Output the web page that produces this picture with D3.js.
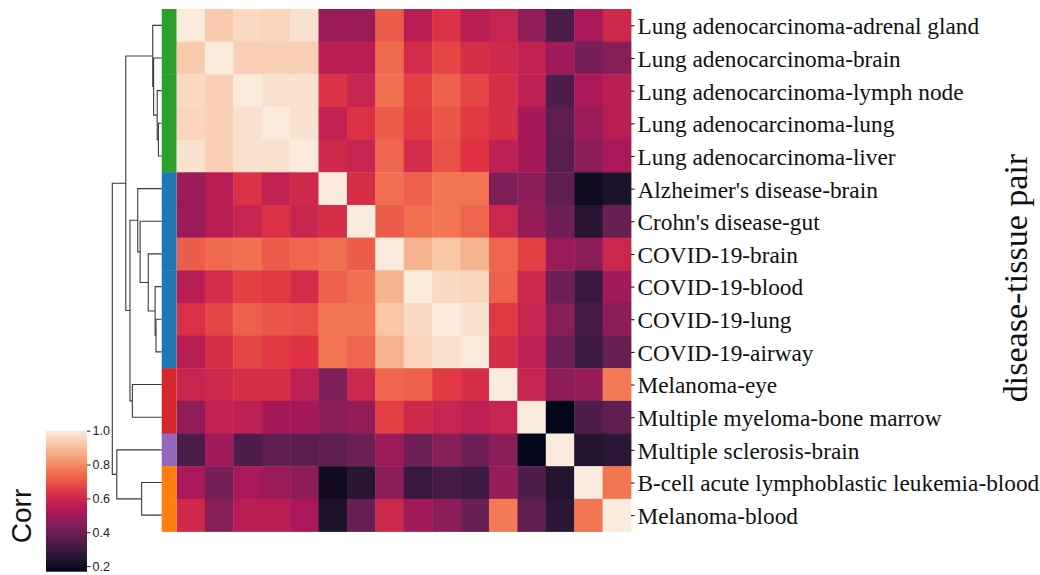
<!DOCTYPE html>
<html>
<head>
<meta charset="utf-8">
<script src="https://cdn.jsdelivr.net/npm/d3@7"></script>
<style>
  html, body { margin: 0; padding: 0; background: #fff; }
  svg { display: block; }
</style>
</head>
<body>
<script>
// Row / column order of the clustered correlation matrix
const rowLabels = [
  "Lung adenocarcinoma-adrenal gland",
  "Lung adenocarcinoma-brain",
  "Lung adenocarcinoma-lymph node",
  "Lung adenocarcinoma-lung",
  "Lung adenocarcinoma-liver",
  "Alzheimer's disease-brain",
  "Crohn's disease-gut",
  "COVID-19-brain",
  "COVID-19-blood",
  "COVID-19-lung",
  "COVID-19-airway",
  "Melanoma-eye",
  "Multiple myeloma-bone marrow",
  "Multiple sclerosis-brain",
  "B-cell acute lymphoblastic leukemia-blood",
  "Melanoma-blood"
];

// Cluster membership colour for each row
const rowClusterColors = [
  "#2ca02c", "#2ca02c", "#2ca02c", "#2ca02c", "#2ca02c",
  "#1f77b4", "#1f77b4", "#1f77b4", "#1f77b4", "#1f77b4", "#1f77b4",
  "#d62728", "#d62728",
  "#9467bd",
  "#ff7f0e", "#ff7f0e"
];

// Pairwise correlation between disease-tissue pairs
const corr = [
  [1.00, 0.93, 0.96, 0.95, 0.98, 0.49, 0.49, 0.71, 0.55, 0.63, 0.55, 0.58, 0.47, 0.33, 0.52, 0.60],
  [0.93, 1.00, 0.94, 0.94, 0.94, 0.55, 0.55, 0.74, 0.61, 0.67, 0.62, 0.60, 0.57, 0.50, 0.42, 0.45],
  [0.96, 0.94, 1.00, 0.98, 0.98, 0.63, 0.58, 0.75, 0.66, 0.72, 0.67, 0.62, 0.56, 0.34, 0.52, 0.55],
  [0.95, 0.94, 0.98, 1.00, 0.98, 0.57, 0.63, 0.71, 0.65, 0.70, 0.65, 0.62, 0.51, 0.37, 0.49, 0.55],
  [0.98, 0.94, 0.98, 0.98, 1.00, 0.60, 0.58, 0.73, 0.61, 0.69, 0.64, 0.56, 0.51, 0.36, 0.46, 0.52],
  [0.49, 0.55, 0.63, 0.57, 0.60, 1.00, 0.62, 0.75, 0.72, 0.76, 0.76, 0.43, 0.46, 0.37, 0.19, 0.22],
  [0.49, 0.55, 0.58, 0.63, 0.58, 0.62, 1.00, 0.71, 0.75, 0.76, 0.73, 0.59, 0.48, 0.40, 0.25, 0.39],
  [0.71, 0.74, 0.75, 0.71, 0.73, 0.75, 0.71, 1.00, 0.88, 0.92, 0.88, 0.73, 0.66, 0.49, 0.46, 0.59],
  [0.55, 0.61, 0.66, 0.65, 0.61, 0.72, 0.75, 0.88, 1.00, 0.96, 0.95, 0.72, 0.60, 0.40, 0.29, 0.50],
  [0.63, 0.67, 0.72, 0.70, 0.69, 0.76, 0.76, 0.92, 0.96, 1.00, 0.98, 0.65, 0.58, 0.45, 0.32, 0.46],
  [0.55, 0.62, 0.67, 0.65, 0.64, 0.76, 0.73, 0.88, 0.95, 0.98, 1.00, 0.62, 0.56, 0.40, 0.30, 0.39],
  [0.58, 0.60, 0.62, 0.62, 0.56, 0.43, 0.59, 0.73, 0.72, 0.65, 0.62, 1.00, 0.58, 0.46, 0.48, 0.77],
  [0.47, 0.57, 0.56, 0.51, 0.51, 0.46, 0.48, 0.66, 0.60, 0.58, 0.56, 0.58, 1.00, 0.167, 0.34, 0.37],
  [0.33, 0.50, 0.34, 0.37, 0.36, 0.37, 0.40, 0.49, 0.40, 0.45, 0.40, 0.46, 0.167, 1.00, 0.24, 0.26],
  [0.52, 0.42, 0.52, 0.49, 0.46, 0.19, 0.25, 0.46, 0.29, 0.32, 0.30, 0.48, 0.34, 0.24, 1.00, 0.76],
  [0.60, 0.45, 0.55, 0.55, 0.52, 0.22, 0.39, 0.59, 0.50, 0.46, 0.39, 0.77, 0.37, 0.26, 0.76, 1.00]
];

// Hierarchical linkage: [left child, right child, merge distance].
// Indices 0-15 are rows; each merge creates the next id (16, 17, ...).
const linkage = [
  [3, 4, 0.11],   // 16
  [2, 16, 0.15],  // 17
  [1, 17, 0.27],  // 18
  [0, 18, 0.30],  // 19
  [9, 10, 0.19],  // 20
  [8, 20, 0.22],  // 21
  [7, 21, 0.45],  // 22
  [6, 22, 0.72],  // 23
  [5, 23, 0.80],  // 24
  [11, 12, 0.98], // 25
  [24, 25, 1.06], // 26
  [19, 26, 1.20], // 27
  [14, 15, 0.67], // 28
  [13, 28, 1.50], // 29
  [27, 29, 1.65]  // 30
];

const colorbarTicks = [0.2, 0.4, 0.6, 0.8, 1.0];

// "rocket" colormap anchor colours
const rocketStops = ["#03051a", "#35193e", "#701f57", "#ad1759", "#e13342", "#f37651", "#f6b48f", "#faebdd"];

const W = 1040, H = 575;
const n = rowLabels.length;

const svg = d3.select("body").append("svg")
  .attr("width", W).attr("height", H)
  .attr("viewBox", `0 0 ${W} ${H}`);

svg.append("rect").attr("width", W).attr("height", H).attr("fill", "#fff");

// Layout
const heat = { x0: 176.5, x1: 631, y0: 9, y1: 531.5 };
const strip = { x0: 161.7, x1: 176.5 };
const dendro = { leafX: 161.7, rootX: 112.3 };
const cbar = { x0: 46, x1: 87, y0: 430.7, y1: 571.7 };

const xBand = d3.scaleBand().domain(d3.range(n)).range([heat.x0, heat.x1]);
const yBand = d3.scaleBand().domain(d3.range(n)).range([heat.y0, heat.y1]);

const vmin = d3.min(corr.flat());
const vmax = 1.0;
const rocket = d3.piecewise(d3.interpolateLab, rocketStops);
const color = d3.scaleSequential(rocket).domain([vmin, vmax]);

// Heatmap cells
const cells = [];
corr.forEach((row, i) => row.forEach((v, j) => cells.push({ i, j, v })));
svg.append("g")
  .selectAll("rect")
  .data(cells)
  .join("rect")
  .attr("x", d => xBand(d.j))
  .attr("y", d => yBand(d.i))
  .attr("width", xBand.bandwidth() + 0.4)
  .attr("height", yBand.bandwidth() + 0.4)
  .attr("fill", d => color(d.v));

// Row cluster colour strip
svg.append("g")
  .selectAll("rect")
  .data(rowClusterColors)
  .join("rect")
  .attr("x", strip.x0)
  .attr("y", (d, i) => yBand(i))
  .attr("width", strip.x1 - strip.x0)
  .attr("height", yBand.bandwidth() + 0.4)
  .attr("fill", d => d);

// Row dendrogram
const maxH = d3.max(linkage, d => d[2]);
const hx = d3.scaleLinear().domain([0, maxH]).range([dendro.leafX, dendro.rootX]);
const nodes = d3.range(n).map(i => ({ y: yBand(i) + yBand.bandwidth() / 2, h: 0 }));
const links = [];
linkage.forEach(([a, b, h]) => {
  const A = nodes[a], B = nodes[b];
  links.push({ A, B, h });
  nodes.push({ y: (A.y + B.y) / 2, h });
});
svg.append("g")
  .attr("fill", "none")
  .attr("stroke", "#3a3a3a")
  .attr("stroke-width", 1.1)
  .selectAll("path")
  .data(links)
  .join("path")
  .attr("d", d => {
    const p = d3.path();
    p.moveTo(hx(d.A.h), d.A.y);
    p.lineTo(hx(d.h), d.A.y);
    p.lineTo(hx(d.h), d.B.y);
    p.lineTo(hx(d.B.h), d.B.y);
    return p.toString();
  });

// Row labels on the right
const yCenter = d3.scalePoint().domain(d3.range(n))
  .range([heat.y0 + yBand.bandwidth() / 2, heat.y1 - yBand.bandwidth() / 2]);
const rowAxis = svg.append("g")
  .attr("transform", `translate(${heat.x1},0)`)
  .call(d3.axisRight(yCenter).tickSize(3.5).tickPadding(3).tickFormat(i => rowLabels[i]));
rowAxis.select(".domain").remove();
rowAxis.selectAll(".tick line").attr("stroke", "#000").attr("stroke-width", 1);
rowAxis.selectAll(".tick text")
  .attr("fill", "#111")
  .attr("dy", "0.36em")
  .style("font-family", "'Liberation Serif', 'Times New Roman', serif")
  .style("font-size", "23.3px");

// Axis title
svg.append("text")
  .attr("transform", "translate(1027,278) rotate(-90)")
  .attr("text-anchor", "middle")
  .attr("fill", "#111")
  .style("font-family", "'Liberation Serif', 'Times New Roman', serif")
  .style("font-size", "34px")
  .text("disease-tissue pair");

// Colour bar
const defs = svg.append("defs");
const grad = defs.append("linearGradient")
  .attr("id", "corr-grad")
  .attr("x1", 0).attr("y1", 1).attr("x2", 0).attr("y2", 0);
grad.selectAll("stop")
  .data(d3.range(0, 1.0001, 0.05))
  .join("stop")
  .attr("offset", d => d)
  .attr("stop-color", d => rocket(d));

svg.append("rect")
  .attr("x", cbar.x0).attr("y", cbar.y0)
  .attr("width", cbar.x1 - cbar.x0).attr("height", cbar.y1 - cbar.y0)
  .attr("fill", "url(#corr-grad)");

const cy = d3.scaleLinear().domain([vmin, vmax]).range([cbar.y1, cbar.y0]);
const cAxis = svg.append("g")
  .attr("transform", `translate(${cbar.x1},0)`)
  .call(d3.axisRight(cy).tickValues(colorbarTicks).tickFormat(d3.format(".1f")).tickSize(3.5).tickPadding(2));
cAxis.select(".domain").remove();
cAxis.selectAll(".tick line").attr("stroke", "#222").attr("stroke-width", 1);
cAxis.selectAll(".tick text")
  .attr("fill", "#222")
  .style("font-family", "'Liberation Sans', Arial, sans-serif")
  .style("font-size", "12.5px");

svg.append("text")
  .attr("transform", "translate(31,516) rotate(-90)")
  .attr("text-anchor", "middle")
  .attr("fill", "#111")
  .style("font-family", "'Liberation Sans', Arial, sans-serif")
  .style("font-size", "28px")
  .text("Corr");
</script>
</body>
</html>
